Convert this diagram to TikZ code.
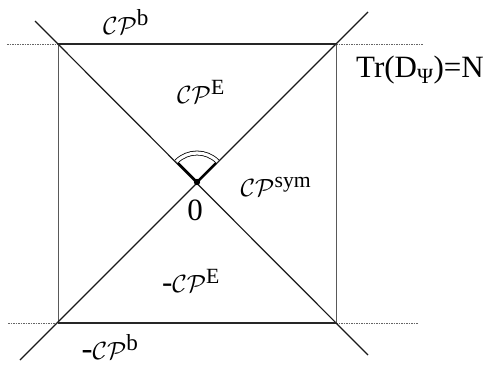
\documentclass[tikz,border=0pt]{standalone}
\usepackage{amsmath}
\usepackage{fontspec}
\setmainfont{Liberation Serif}
\begin{document}
\begin{tikzpicture}[x=1pt,y=-1pt,
  lab/.style={font=\fontsize{31}{36}\selectfont, inner sep=0pt},
  labbig/.style={font=\fontsize{33}{38}\selectfont, inner sep=0pt},
  labtr/.style={font=\fontsize{31}{36}\selectfont, inner sep=0pt},
  diag/.style={line width=1.2pt, black!90},
  side/.style={line width=0.8pt, black!65},
  edge/.style={line width=2.6pt, black!85},
  ext/.style={line width=0.7pt, black!60, dash pattern=on 1.5pt off 1pt}]
\useasboundingbox (0,0) rectangle (485,375);
% corners
\coordinate (TL) at (58,44);
\coordinate (TR) at (336,44);
\coordinate (BL) at (58,323);
\coordinate (BR) at (336,323);
\coordinate (O) at (197,182);
% diagonal ends
\coordinate (dTL) at (35,21);
\coordinate (dTR) at (368,12);
\coordinate (dBL) at (20,360);
\coordinate (dBR) at (368,355);
% dotted ends
\coordinate (eTL) at (7,44);
\coordinate (eTR) at (423,44);
\coordinate (eBL) at (8,323);
\coordinate (eBR) at (418,323);
% dotted extensions
\draw[ext] (eTL) -- (TL);
\draw[ext] (TR) -- (eTR);
\draw[ext] (eBL) -- (BL);
\draw[ext] (BR) -- (eBR);
% sides
\draw[side] (TL) -- (BL);
\draw[side] (TR) -- (BR);
% diagonals
\draw[diag] (dTL) -- (dBR);
\draw[diag] (dTR) -- (dBL);
% thick top/bottom
\draw[edge] (TL) -- (TR);
\draw[edge] (BL) -- (BR);
% angle mark
\draw[line width=2.2pt] (O) -- ++(-135:27);
\draw[line width=2.2pt] (O) -- ++(-45:27);
\draw[line width=0.8pt, double, double distance=3.2pt]
  ([shift={(-45:29)}]O) arc[start angle=-45, end angle=-135, radius=29];
\fill (O) circle (3.2pt);
% labels
\node[labbig] (cpb) at (126,22) {$\mathcal{CP}^{\text{b}}$};
\node[lab] (cpe) at (201,92) {$\mathcal{CP}^{\text{E}}$};
\node[lab] (cpsym) at (276,187) {$\mathcal{CP}^{\text{sym}}$};
\node[lab] (zero) at (195,210) {0};
\node[lab] (mcpe) at (191,281) {-$\mathcal{CP}^{\text{E}}$};
\node[labbig] (mcpb) at (110,347) {-$\mathcal{CP}^{\text{b}}$};
\node[labtr, anchor=east] (tr) at (484,70) {Tr(D\textsubscript{Ψ})=N};
\end{tikzpicture}
\end{document}
